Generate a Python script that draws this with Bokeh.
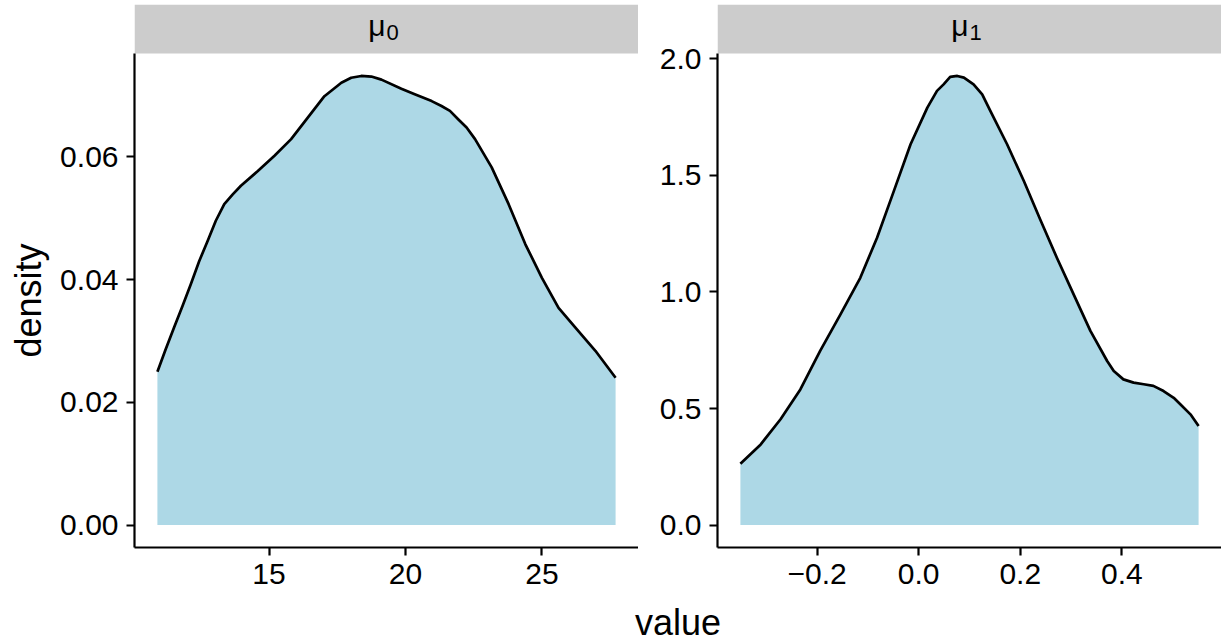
import math
from bokeh.plotting import figure
from bokeh.layouts import column, row
from bokeh.models import FixedTicker, Range1d, CustomJSTickFormatter
from bokeh.core.properties import value
from bokeh.embed import file_html
from bokeh.resources import INLINE

# ---- data: posterior density estimates for the two parameters ----
mu0_x = [10.91, 11.21, 11.52, 11.83, 12.13, 12.44, 12.75, 13.05, 13.36, 13.67,
         13.97, 14.59, 15.20, 15.81, 16.42, 17.03, 17.65, 18.01, 18.38, 18.75,
         19.12, 19.85, 20.34, 20.96, 21.32, 21.63, 21.94, 22.24, 22.55, 23.16,
         23.78, 24.39, 25.00, 25.61, 26.22, 26.96, 27.70]
mu0_density = [0.0250, 0.0286, 0.0322, 0.0357, 0.0392, 0.0430, 0.0463, 0.0496, 0.0523, 0.0539,
               0.0553, 0.0577, 0.0602, 0.0629, 0.0664, 0.0699, 0.0721, 0.0729, 0.0732, 0.0731,
               0.0726, 0.0711, 0.0702, 0.0691, 0.0683, 0.0675, 0.0661, 0.0648, 0.0629, 0.0583,
               0.0523, 0.0458, 0.0403, 0.0354, 0.0322, 0.0284, 0.0240]

mu1_x = [-0.351, -0.311, -0.272, -0.233, -0.194, -0.154, -0.115, -0.082, -0.049, -0.016,
         0.017, 0.036, 0.049, 0.062, 0.076, 0.089, 0.108, 0.125, 0.141, 0.174,
         0.207, 0.239, 0.272, 0.305, 0.338, 0.371, 0.384, 0.403, 0.423, 0.443,
         0.462, 0.482, 0.502, 0.515, 0.535, 0.551]
mu1_density = [0.263, 0.346, 0.454, 0.582, 0.747, 0.904, 1.061, 1.233, 1.433, 1.634,
               1.791, 1.863, 1.891, 1.923, 1.927, 1.920, 1.891, 1.848, 1.777, 1.634,
               1.476, 1.312, 1.147, 0.990, 0.833, 0.704, 0.661, 0.625, 0.611, 0.604,
               0.597, 0.575, 0.546, 0.518, 0.475, 0.425]

facet_symbol = "μ"
facet_subscripts = ["0", "1"]

mu0_xticks = [15, 20, 25]
mu0_xlabels = ["15", "20", "25"]
mu0_yticks = [0.0, 0.02, 0.04, 0.06]
mu0_ylabels = ["0.00", "0.02", "0.04", "0.06"]

mu1_xticks = [-0.2, 0.0, 0.2, 0.4]
mu1_xlabels = ["\u22120.2", "0.0", "0.2", "0.4"]
mu1_yticks = [0.0, 0.5, 1.0, 1.5, 2.0]
mu1_ylabels = ["0.0", "0.5", "1.0", "1.5", "2.0"]

x_title = "value"
y_title = "density"

# ---- styling ----
FONT = "Liberation Sans"
FILL = "#ADD8E6"
STRIP = "#CCCCCC"
TICK_PX = "30px"
TITLE_PX = "36px"

PANEL_H = 494          # plotting area height
STRIP_H = 49           # facet strip height (sits on top of the plotting area)
FRAME_H = PANEL_H + STRIP_H
TOP_PAD = 4
BOTTOM_PAD = 50
TOTAL_H = 636
YLAB_W = 50            # column holding the rotated y title
LEFT_W = 638 - YLAB_W
RIGHT_W = 583
LEFT_BORDER = 134 - YLAB_W
RIGHT_BORDER = 79


def label_formatter(tick_values, tick_labels):
    return CustomJSTickFormatter(args=dict(tv=tick_values, tl=tick_labels), code="""
        let best = 0;
        for (let i = 0; i < tv.length; i++) {
            if (Math.abs(tv[i] - tick) < Math.abs(tv[best] - tick)) best = i;
        }
        return tl[best];
    """)


def expand(lo, hi, frac=0.05):
    span = hi - lo
    return lo - frac * span, hi + frac * span


def bare(width, height, xr, yr, border_left=0):
    f = figure(width=width, height=height, x_range=xr, y_range=yr,
               output_backend="svg", toolbar_location=None,
               x_axis_location=None, y_axis_location=None,
               min_border_left=border_left, min_border_right=0,
               min_border_top=0, min_border_bottom=0)
    f.outline_line_color = None
    f.xgrid.visible = False
    f.ygrid.visible = False
    return f


def panel(width, border_left, xs, ys, xticks, xlabels, yticks, ylabels, sub):
    x0, x1 = expand(min(xs), max(xs))
    y0, y1 = expand(0.0, max(ys))
    # the frame also holds the strip, so stretch the range above the panel top
    y_top = y0 + (y1 - y0) * FRAME_H / PANEL_H
    p = figure(width=width, height=TOP_PAD + FRAME_H + BOTTOM_PAD,
               x_range=Range1d(x0, x1), y_range=Range1d(y0, y_top),
               output_backend="svg", toolbar_location=None,
               min_border_left=border_left, min_border_right=0,
               min_border_top=TOP_PAD, min_border_bottom=BOTTOM_PAD)
    p.outline_line_color = None
    p.xgrid.visible = False
    p.ygrid.visible = False

    # facet strip, in its own pixel-like range
    p.extra_y_ranges = {"strip": Range1d(0, FRAME_H)}
    p.quad(left=[x0], right=[x1], bottom=[PANEL_H], top=[FRAME_H], y_range_name="strip",
           fill_color=STRIP, line_color=None)
    xc = 0.5 * (x0 + x1)
    p.text(x=[xc], y=[FRAME_H - 21], text=[facet_symbol], y_range_name="strip",
           text_align="right", text_baseline="alphabetic", x_offset=-1,
           text_font=value(FONT), text_font_size=TICK_PX, text_color="black")
    p.text(x=[xc], y=[FRAME_H - 28], text=[sub], y_range_name="strip",
           text_align="left", text_baseline="alphabetic",
           text_font=value(FONT), text_font_size="22px", text_color="black")

    # density area with its upper outline
    p.varea(x=xs, y1=[0.0] * len(xs), y2=ys, fill_color=FILL, fill_alpha=1.0)
    p.line(x=xs, y=ys, line_color="black", line_width=2.7, line_join="round")

    p.xaxis.ticker = FixedTicker(ticks=xticks)
    p.xaxis.formatter = label_formatter(xticks, xlabels)
    p.yaxis.ticker = FixedTicker(ticks=yticks)
    p.yaxis.formatter = label_formatter(yticks, ylabels)
    p.yaxis.bounds = (y0, y1)
    for ax in (p.xaxis[0], p.yaxis[0]):
        ax.axis_line_color = "black"
        ax.axis_line_width = 2.2
        ax.major_tick_line_color = "black"
        ax.major_tick_line_width = 2.2
        ax.major_tick_out = 8
        ax.major_tick_in = 0
        ax.minor_tick_out = 0
        ax.minor_tick_in = 0
        ax.major_label_standoff = 8
        ax.major_label_text_font = FONT
        ax.major_label_text_font_size = TICK_PX
        ax.major_label_text_color = "black"
    return p


p0 = panel(LEFT_W, LEFT_BORDER, mu0_x, mu0_density, mu0_xticks, mu0_xlabels,
           mu0_yticks, mu0_ylabels, facet_subscripts[0])
p1 = panel(RIGHT_W, RIGHT_BORDER, mu1_x, mu1_density, mu1_xticks, mu1_xlabels,
           mu1_yticks, mu1_ylabels, facet_subscripts[1])

# rotated y title, centred on the plotting areas (canvas pixels, y measured upward)
yl = bare(YLAB_W, TOTAL_H, Range1d(0, YLAB_W), Range1d(0, TOTAL_H))
panel_mid = TOTAL_H - (TOP_PAD + STRIP_H + PANEL_H / 2)
yl.text(x=[28], y=[panel_mid], text=[y_title], angle=math.pi / 2,
        text_align="center", text_baseline="middle",
        text_font=value(FONT), text_font_size=TITLE_PX, text_color="black")

# shared x title, centred under both panels
xt_h = TOTAL_H - (TOP_PAD + FRAME_H + BOTTOM_PAD)
xt = bare(LEFT_W + RIGHT_W, xt_h, Range1d(0, 1), Range1d(0, xt_h), border_left=LEFT_BORDER)
xt.text(x=[0.5], y=[14], text=[x_title], text_align="center", text_baseline="alphabetic",
        text_font=value(FONT), text_font_size=TITLE_PX, text_color="black")

layout = row(yl, column(row(p0, p1), xt))

with open("out.html", "w") as f:
    f.write(file_html(layout, INLINE))
